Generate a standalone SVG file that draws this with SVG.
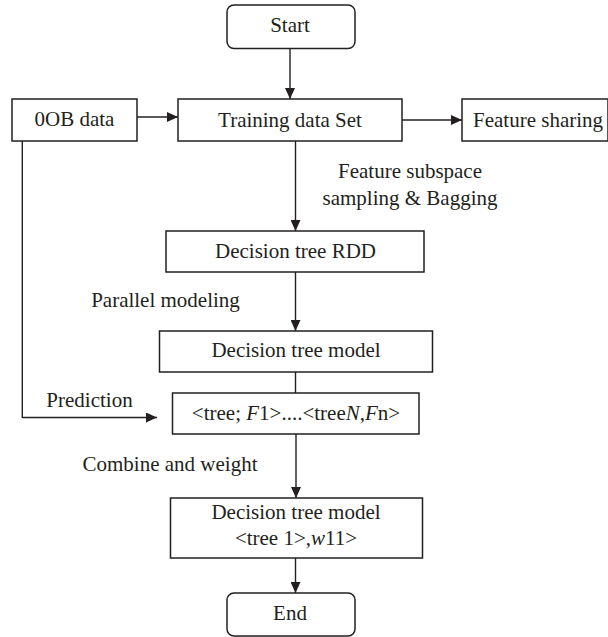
<svg xmlns="http://www.w3.org/2000/svg" width="608" height="637" viewBox="0 0 608 637">
<style>
.box{fill:#fff;stroke:#231f20;stroke-width:1.5}
.ln{fill:none;stroke:#231f20;stroke-width:1.4}
text{font-family:"Liberation Serif","Times New Roman",serif;font-size:21px;fill:#231f20}
.c{text-anchor:middle}
.i{font-style:italic}
</style>
<defs>
<marker id="ah" markerWidth="11" markerHeight="10" refX="11" refY="5" orient="auto" markerUnits="userSpaceOnUse">
<path d="M0,0 L11,5 L0,10 Z" fill="#231f20"/>
</marker>
</defs>
<rect width="608" height="637" fill="#fff"/>
<g id="connectors">
<line class="ln" x1="290" y1="48.5" x2="290" y2="99" marker-end="url(#ah)"/>
<line class="ln" x1="137" y1="117" x2="178" y2="117" marker-end="url(#ah)"/>
<line class="ln" x1="402" y1="120" x2="462" y2="120" marker-end="url(#ah)"/>
<line class="ln" x1="295.5" y1="141" x2="295.5" y2="231" marker-end="url(#ah)"/>
<line class="ln" x1="295.5" y1="272" x2="295.5" y2="331" marker-end="url(#ah)"/>
<line class="ln" x1="295.5" y1="372" x2="295.5" y2="393"/>
<polyline class="ln" points="22.3,141 22.3,417.5 157,417.5" marker-end="url(#ah)"/>
<line class="ln" x1="296" y1="434" x2="296" y2="498" marker-end="url(#ah)"/>
<line class="ln" x1="295.5" y1="558" x2="295.5" y2="593" marker-end="url(#ah)"/>
</g>
<g id="start">
<rect class="box" x="227" y="5" width="128" height="43.5" rx="7"/>
<text class="c" x="290" y="32">Start</text>
</g>
<g id="oob">
<rect class="box" x="12" y="99" width="125" height="42"/>
<text class="c" x="74.5" y="126">0OB data</text>
</g>
<g id="training">
<rect class="box" x="178" y="99" width="224" height="42"/>
<text class="c" x="290" y="127">Training data Set</text>
</g>
<g id="feature-sharing">
<rect class="box" x="462" y="99" width="146" height="42"/>
<text x="473" y="127">Feature sharing</text>
</g>
<g id="label-sampling">
<text class="c" x="410" y="178">Feature subspace</text>
<text class="c" x="410" y="205">sampling &amp; Bagging</text>
</g>
<g id="rdd">
<rect class="box" x="166" y="231" width="258" height="41"/>
<text class="c" x="295.5" y="257.5">Decision tree RDD</text>
</g>
<g id="label-parallel">
<text class="c" x="165.5" y="306.5">Parallel modeling</text>
</g>
<g id="model">
<rect class="box" x="159.5" y="331" width="273" height="41"/>
<text class="c" x="296" y="357">Decision tree model</text>
</g>
<g id="label-prediction">
<text class="c" x="89.5" y="407">Prediction</text>
</g>
<g id="trees">
<rect class="box" x="172.5" y="393" width="246.5" height="41"/>
<text class="c" x="296" y="420">&lt;tree; <tspan class="i">F</tspan>1&gt;....&lt;tree<tspan class="i">N</tspan>,<tspan class="i">F</tspan>n&gt;</text>
</g>
<g id="label-combine">
<text class="c" x="170" y="470.5">Combine and weight</text>
</g>
<g id="final-model">
<rect class="box" x="170.5" y="498" width="252" height="60"/>
<text class="c" x="296" y="519">Decision tree model</text>
<text class="c" x="296" y="545">&lt;tree 1&gt;,<tspan class="i">w</tspan>11&gt;</text>
</g>
<g id="end">
<rect class="box" x="227" y="593" width="128" height="43" rx="7"/>
<text class="c" x="290" y="620">End</text>
</g>
</svg>
